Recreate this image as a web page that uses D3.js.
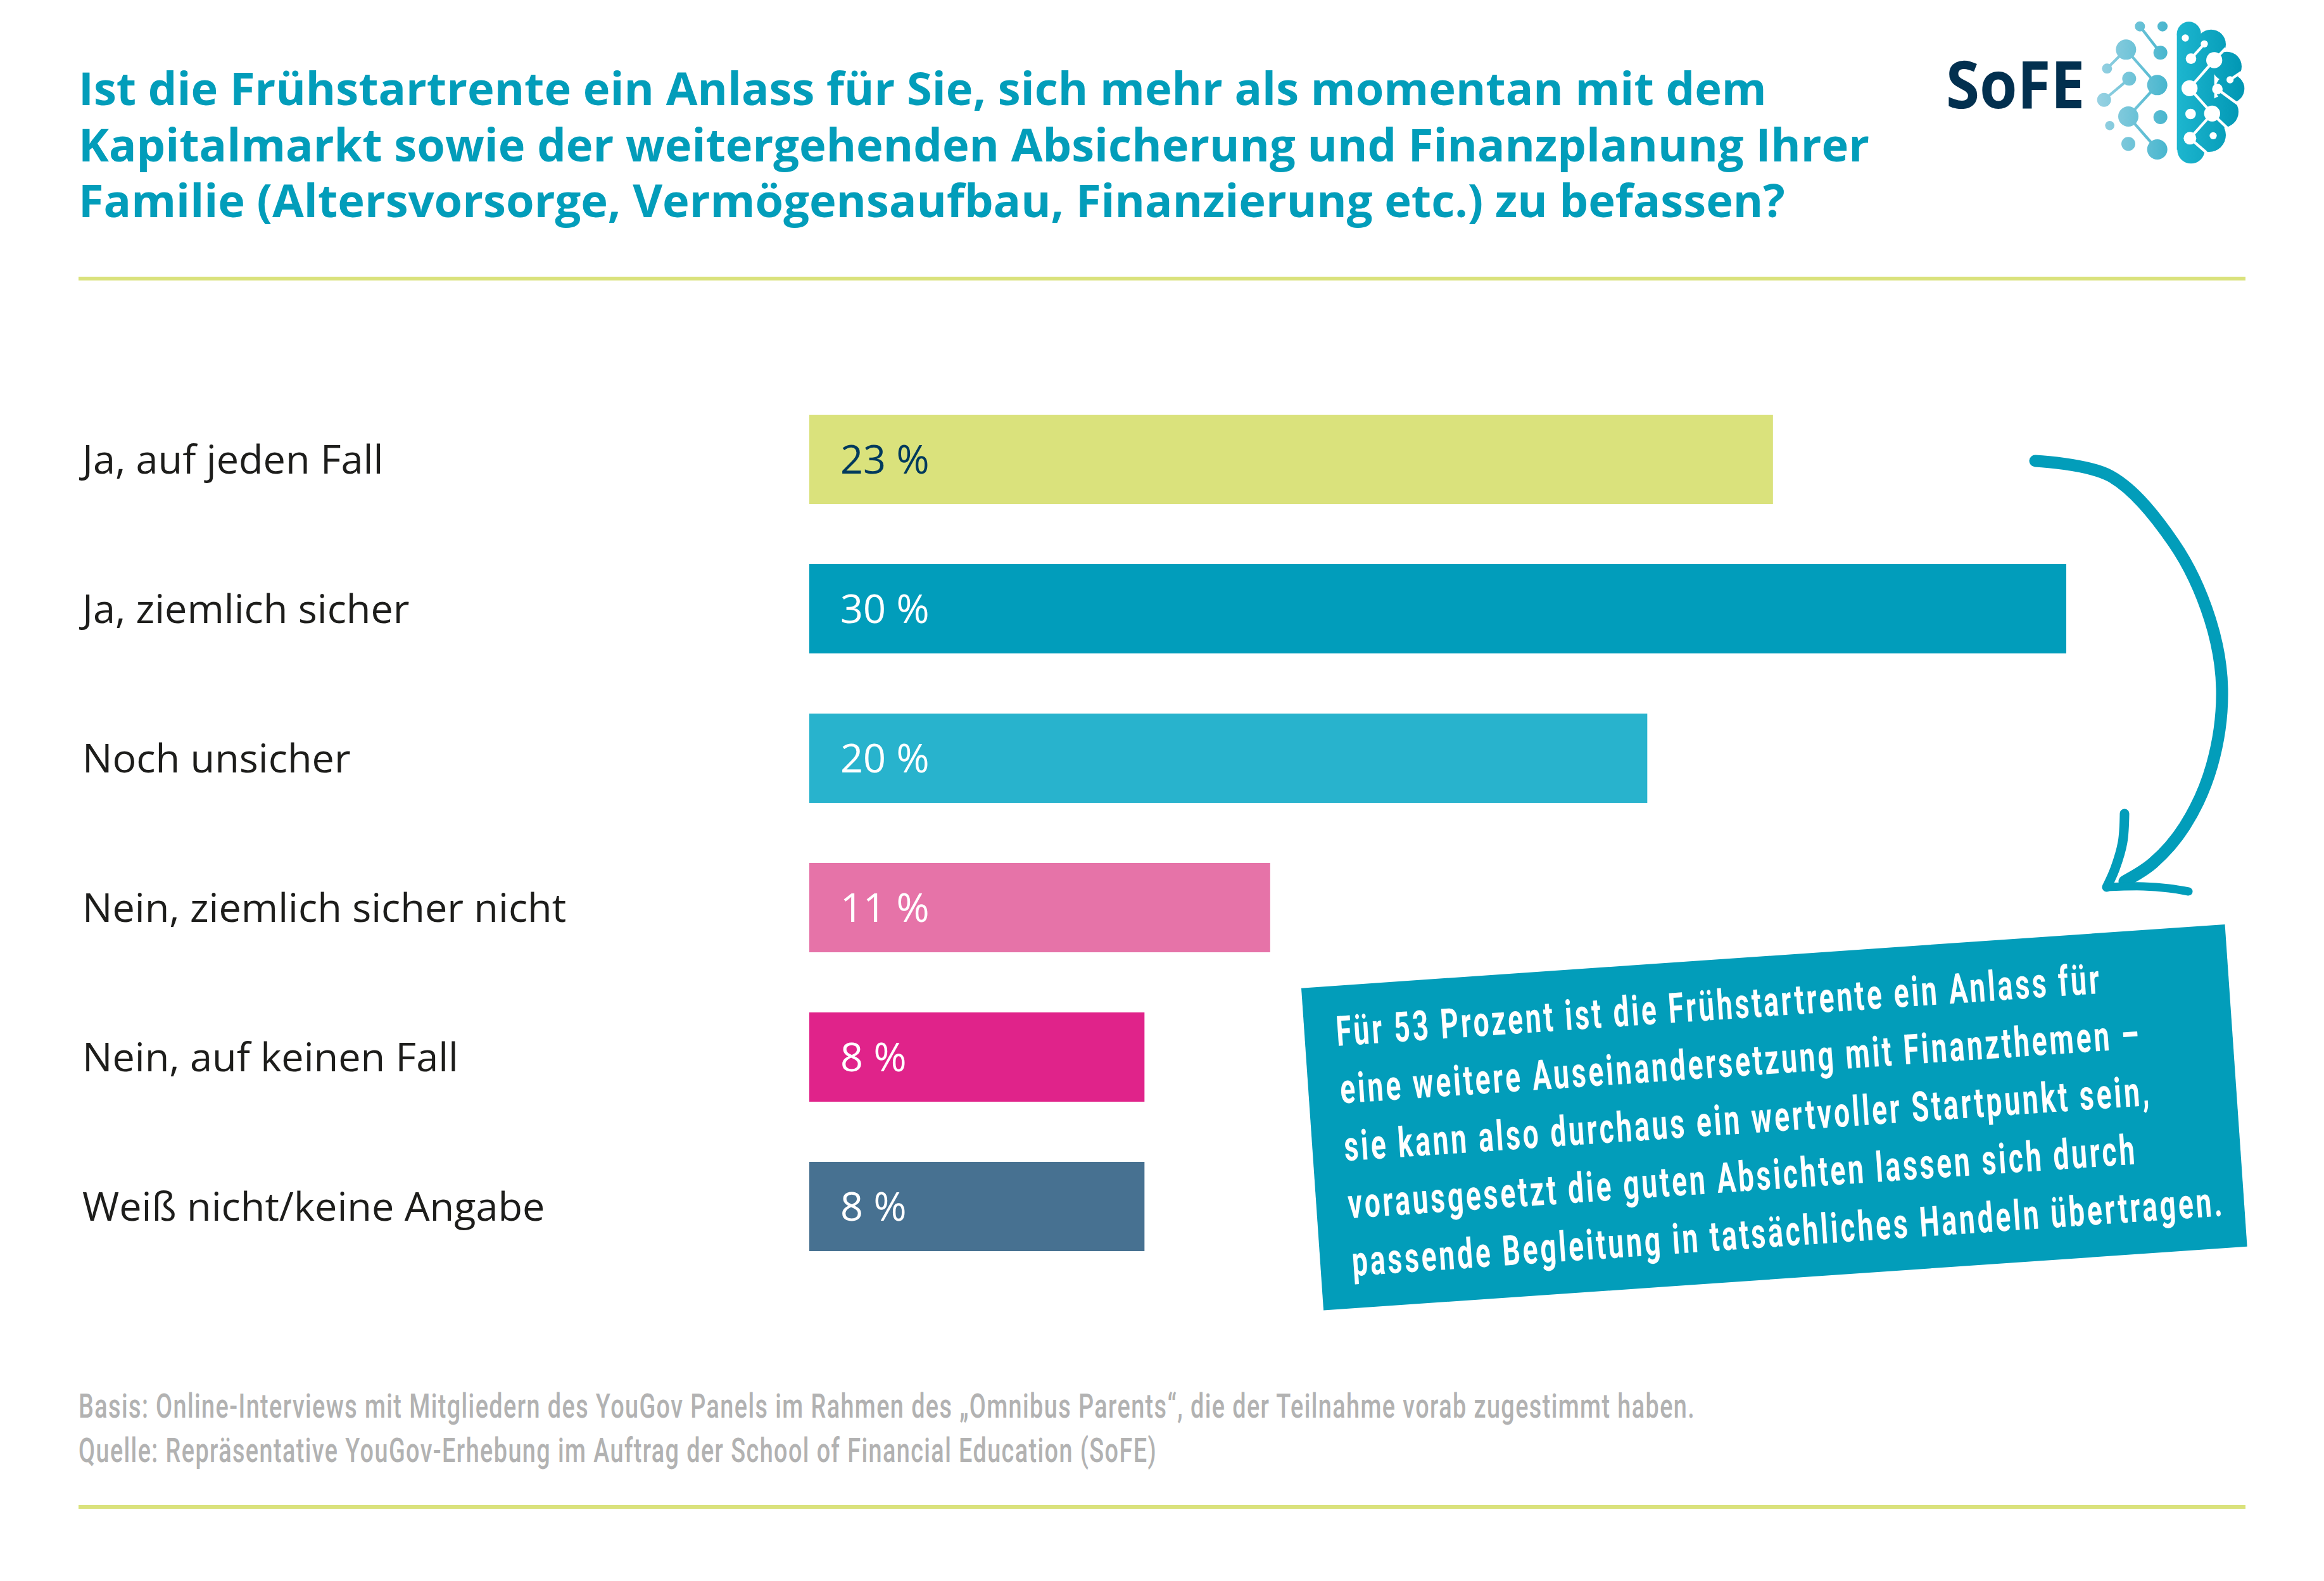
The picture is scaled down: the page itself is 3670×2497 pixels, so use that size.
<!DOCTYPE html>
<html lang="de">
<head>
<meta charset="utf-8">
<script src="https://cdn.jsdelivr.net/npm/d3@7"></script>
<style>
    html, body { margin: 0; padding: 0; background: #fff; }
    svg { display: block; }
</style>
</head>
<body>
<script>
const categories = [
    "Ja, auf jeden Fall",
    "Ja, ziemlich sicher",
    "Noch unsicher",
    "Nein, ziemlich sicher nicht",
    "Nein, auf keinen Fall",
    "Weiß nicht/keine Angabe"
];
const shares = [23, 30, 20, 11, 8, 8];
const barColours = ["#dae27c", "#019dbb", "#28b3cd", "#e673a8", "#e0238a", "#477191"];
const shareColours = ["#003a5d", "#ffffff", "#ffffff", "#ffffff", "#ffffff", "#ffffff"];

const titleLines = [
    "Ist die Frühstartrente ein Anlass für Sie, sich mehr als momentan mit dem",
    "Kapitalmarkt sowie der weitergehenden Absicherung und Finanzplanung Ihrer",
    "Familie (Altersvorsorge, Vermögensaufbau, Finanzierung etc.) zu befassen?"
];
const noteLines = [
    "Für 53 Prozent ist die Frühstartrente ein Anlass für",
    "eine weitere Auseinandersetzung mit Finanzthemen –",
    "sie kann also durchaus ein wertvoller Startpunkt sein,",
    "vorausgesetzt die guten Absichten lassen sich durch",
    "passende Begleitung in tatsächliches Handeln übertragen."
];
const sourceLines = [
    "Basis: Online-Interviews mit Mitgliedern des YouGov Panels im Rahmen des „Omnibus Parents“, die der Teilnahme vorab zugestimmt haben.",
    "Quelle: Repräsentative YouGov-Erhebung im Auftrag der School of Financial Education (SoFE)"
];

const width = 3670,
    height = 2497,
    teal = "#029dba",
    lime = "#dae27c";

const svg = d3.select("body").append("svg")
    .attr("width", width)
    .attr("height", height)
    .attr("viewBox", `0 0 ${width} ${height}`);

svg.append("rect")
    .attr("width", width)
    .attr("height", height)
    .attr("fill", "#fff");

// title
svg.append("g")
    .selectAll("text")
    .data(titleLines)
    .enter()
    .append("text")
    .attr("x", 124)
    .attr("y", (d, i) => 166 + i * 88.5)
    .attr("fill", teal)
    .style("font-family", "'Open Sans'")
    .style("font-weight", 700)
    .style("font-size", "72.2px")
    .text(d => d);

// separator rules
[437, 2377].forEach(y => {
    svg.append("rect")
        .attr("x", 124)
        .attr("y", y)
        .attr("width", 3422)
        .attr("height", 6)
        .attr("fill", lime);
});

// bars
const xScale = d3.scaleLinear()
    .domain([0, 30])
    .range([1278, 3263]);
const yScale = d3.scaleBand()
    .domain(categories)
    .range([607.8, 2023.2])
    .paddingInner(0.4025)
    .paddingOuter(0.2);

const rows = categories.map((c, i) => ({category: c, value: shares[i], colour: barColours[i], textColour: shareColours[i]}));

svg.append("g")
    .attr("class", "bars")
    .selectAll("rect")
    .data(rows)
    .enter()
    .append("rect")
    .attr("x", xScale(0))
    .attr("y", d => yScale(d.category))
    .attr("width", d => xScale(d.value) - xScale(0))
    .attr("height", yScale.bandwidth())
    .attr("fill", d => d.colour);

svg.append("g")
    .attr("class", "axis-labels")
    .selectAll("text")
    .data(rows)
    .enter()
    .append("text")
    .attr("x", 130)
    .attr("y", d => yScale(d.category) + yScale.bandwidth() / 2)
    .attr("dy", "0.36em")
    .attr("fill", "#1d1d1b")
    .style("font-family", "'Open Sans'")
    .style("font-size", "63px")
    .text(d => d.category);

svg.append("g")
    .attr("class", "values")
    .selectAll("text")
    .data(rows)
    .enter()
    .append("text")
    .attr("x", xScale(0) + 49)
    .attr("y", d => yScale(d.category) + yScale.bandwidth() / 2)
    .attr("dy", "0.357em")
    .attr("fill", d => d.textColour)
    .style("font-family", "'Open Sans'")
    .style("font-size", "63px")
    .text(d => `${d.value} %`);

// rotated note box
const note = svg.append("g")
    .attr("transform", "translate(2801.8,1764.7) rotate(-3.95)");

note.append("rect")
    .attr("x", -731)
    .attr("y", -255)
    .attr("width", 1462)
    .attr("height", 510)
    .attr("fill", teal);

const noteText = note.selectAll("g.line")
    .data(noteLines)
    .enter()
    .append("g")
    .attr("class", "line");
noteText.append("text")
    .attr("fill", "#fff")
    .style("font-family", "Roboto")
    .style("font-weight", 700)
    .style("font-size", "66px")
    .style("letter-spacing", "6px")
    .text(d => d);

const noteFirst = noteText.select("text").node().getComputedTextLength(),
    noteSquash = 1212 / noteFirst;
noteText.attr("transform", (d, i) => `translate(-681,${-160 + i * 91}) scale(${noteSquash},1)`);

// source notes
const source = svg.append("g")
    .selectAll("g")
    .data(sourceLines)
    .enter()
    .append("g");
source.append("text")
    .attr("fill", "#b2b2b2")
    .style("font-family", "Roboto")
    .style("font-weight", 500)
    .style("font-size", "53px")
    .style("letter-spacing", "2px")
    .text(d => d);
const sourceFirst = source.select("text").node().getComputedTextLength(),
    sourceSquash = 2554 / sourceFirst;
source.attr("transform", (d, i) => `translate(124,${2239 + i * 70}) scale(${sourceSquash},1)`);

// curved arrow
const arrowLine = d3.line().curve(d3.curveCatmullRom.alpha(0.5));
const arrow = svg.append("g")
    .attr("fill", "none")
    .attr("stroke", teal)
    .attr("stroke-linecap", "round")
    .attr("stroke-linejoin", "round");
arrow.append("path")
    .attr("stroke-width", 19)
    .attr("d", arrowLine([[3214, 728], [3333, 752], [3433, 858], [3490, 978], [3509, 1088],
        [3493, 1209], [3450, 1305], [3400, 1363], [3355, 1392]]));
arrow.append("path")
    .attr("stroke-width", 15)
    .attr("d", arrowLine([[3355, 1285], [3352, 1330], [3340, 1372], [3327, 1401]]));
arrow.append("path")
    .attr("stroke-width", 13)
    .attr("d", arrowLine([[3327, 1401], [3385, 1400], [3425, 1403], [3456, 1408]]));

// logo
const logo = svg.append("g")
    .attr("transform", "translate(3080,20) scale(0.33333)");

logo.append("text")
    .attr("x", -21)
    .attr("y", 452)
    .attr("fill", "#02304f")
    .style("font-family", "'Open Sans'")
    .style("font-weight", 700)
    .style("font-size", "310px")
    .attr("textLength", 658)
    .attr("lengthAdjust", "spacingAndGlyphs")
    .text("SoFE");

const defs = svg.append("defs");
const gradA = defs.append("linearGradient")
    .attr("id", "netGrad")
    .attr("gradientUnits", "userSpaceOnUse")
    .attr("x1", 700).attr("x2", 1030).attr("y1", 0).attr("y2", 0);
gradA.append("stop").attr("offset", 0).attr("stop-color", "#97d1e2");
gradA.append("stop").attr("offset", 1).attr("stop-color", "#48b6ce");
const gradB = defs.append("linearGradient")
    .attr("id", "brainGrad")
    .attr("gradientUnits", "userSpaceOnUse")
    .attr("x1", 1073).attr("x2", 1395).attr("y1", 0).attr("y2", 0);
gradB.append("stop").attr("offset", 0).attr("stop-color", "#1db6cf");
gradB.append("stop").attr("offset", 1).attr("stop-color", "#0096b3");

const netNodes = [[898, 65, 24], [1005, 65, 24], [832, 175, 48], [995, 190, 33], [742, 265, 24],
    [847, 313, 33], [980, 343, 48], [728, 413, 33], [843, 492, 48], [995, 495, 33],
    [755, 535, 22], [843, 622, 33], [980, 648, 48]];
const netLinks = [[898, 65, 995, 190], [742, 265, 832, 175], [832, 175, 980, 343],
    [847, 313, 728, 413], [980, 343, 843, 492], [843, 492, 980, 648]];

const net = logo.append("g");
net.selectAll("line")
    .data(netLinks)
    .enter()
    .append("line")
    .attr("x1", d => d[0]).attr("y1", d => d[1])
    .attr("x2", d => d[2]).attr("y2", d => d[3])
    .attr("stroke", "url(#netGrad)")
    .attr("stroke-width", 13);
net.selectAll("circle")
    .data(netNodes)
    .enter()
    .append("circle")
    .attr("cx", d => d[0]).attr("cy", d => d[1]).attr("r", d => d[2])
    .attr("fill", "url(#netGrad)");

const brain = logo.append("g").attr("fill", "url(#brainGrad)");
brain.append("rect")
    .attr("x", 1073).attr("y", 100)
    .attr("width", 177).attr("height", 550);
[[1130, 100, 57], [1140, 650, 65], [1235, 150, 70], [1310, 255, 70], [1325, 360, 68],
    [1290, 470, 75], [1225, 580, 80]].forEach(c => {
    brain.append("circle").attr("cx", c[0]).attr("cy", c[1]).attr("r", c[2]);
});

const holes = [[1113, 120, 17], [1203, 148, 17], [1140, 218, 25], [1250, 225, 38], [1325, 318, 17],
    [1133, 358, 38], [1265, 362, 25], [1138, 480, 25], [1240, 478, 38], [1135, 595, 30], [1245, 583, 17]];
const cuts = [[1140, 218, 1203, 148], [1250, 225, 1133, 358], [1133, 358, 1240, 478],
    [1240, 478, 1135, 595], [1265, 362, 1372, 440], [1325, 318, 1378, 282],
    [1135, 595, 1212, 662], [1240, 478, 1318, 552], [1250, 225, 1305, 168]];
logo.append("g")
    .selectAll("line")
    .data(cuts)
    .enter()
    .append("line")
    .attr("x1", d => d[0]).attr("y1", d => d[1])
    .attr("x2", d => d[2]).attr("y2", d => d[3])
    .attr("stroke", "#fff")
    .attr("stroke-width", 13);
logo.append("g")
    .selectAll("circle")
    .data(holes)
    .enter()
    .append("circle")
    .attr("cx", d => d[0]).attr("cy", d => d[1]).attr("r", d => d[2])
    .attr("fill", "#fff");
</script>
</body>
</html>
